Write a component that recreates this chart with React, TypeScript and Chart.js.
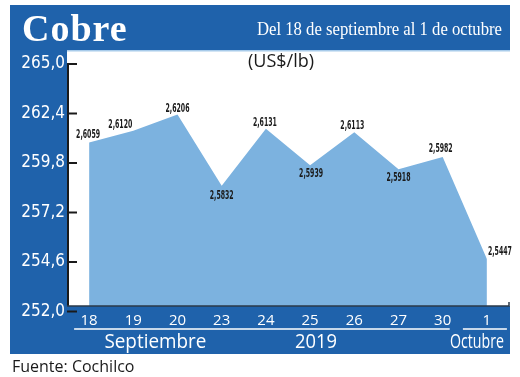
import React, { useEffect, useRef } from "react";
import { Chart, registerables } from "chart.js";

Chart.register(...registerables);

// ---- data ----
const days = ["18", "19", "20", "23", "24", "25", "26", "27", "30", "1"];
const prices = [260.59, 261.2, 262.06, 258.32, 261.31, 259.39, 261.13, 259.18, 259.82, 254.47];
const yTicks = [252.0, 254.6, 257.2, 259.8, 262.4, 265.0];
const months = ["Septiembre", "2019", "Octubre"];
const titleText = "Cobre";
const subtitleText = "Del 18 de septiembre al 1 de octubre";
const unitText = "(US$/lb)";
const sourceText = "Fuente: Cochilco";

// ---- style ----
const W = 520;
const H = 377;
const BLUE = "#1f62ab";
const FILL = "#7cb2df";
const SANS = "'Open Sans', 'DejaVu Sans', sans-serif";
const NARROW = "'Liberation Sans Narrow', 'DejaVu Sans Condensed', 'Open Sans', sans-serif";
const SERIF = "'Liberation Serif', 'DejaVu Serif', serif";
const TICK_SHIFT = 5.5;
// data-label placement relative to each point (dx, dy)
const labelDX = [-1, -13, 0, 0, -1, 1, -2, 0, -2, 13];
const labelDY = [-8, -6, -6, 10, -6, 9, -6, 9, -8, -7];

const fmtTick = (v: number) => Number(v).toFixed(1).replace(".", ",");
const fmtLabel = (v: number) => (v / 100).toFixed(4).replace(".", ",");

const decor = {
  id: "decor",
  beforeDraw(chart: any) {
    const ctx = chart.ctx;
    const ca = chart.chartArea;
    ctx.save();
    ctx.fillStyle = "#ffffff";
    ctx.fillRect(0, 0, W, H);
    ctx.fillStyle = BLUE;
    ctx.fillRect(10, 5, 500, 45);
    ctx.fillRect(10, 5, ca.left - 10, 354 - 5);
    ctx.fillStyle = "#ffffff";
    ctx.fillRect(ca.left, 50, 510 - ca.left, ca.bottom - 50);
    ctx.fillStyle = "#a8cbea";
    ctx.fillRect(ca.left, 50, 510 - ca.left, 1.5);
    ctx.restore();
  },
  afterDatasetsDraw(chart: any) {
    const ctx = chart.ctx;
    const ca = chart.chartArea;
    const ys = chart.scales.y;
    ctx.save();
    // bottom band
    ctx.fillStyle = BLUE;
    ctx.fillRect(ca.left, ca.bottom, 510 - ca.left, 354 - ca.bottom);
    // axes lines
    ctx.strokeStyle = "#1a1a1a";
    ctx.lineWidth = 2;
    const topTick = ys.getPixelForValue(yTicks[yTicks.length - 1]) + TICK_SHIFT;
    ctx.beginPath();
    ctx.moveTo(ca.left + 1, topTick - 1);
    ctx.lineTo(ca.left + 1, ca.bottom);
    ctx.stroke();
    ys.ticks.forEach((t: any) => {
      const py = ys.getPixelForValue(t.value) + TICK_SHIFT;
      ctx.beginPath();
      ctx.moveTo(ca.left, py);
      ctx.lineTo(ca.left + 10, py);
      ctx.stroke();
    });
    ctx.strokeStyle = "#2b3a4a";
    ctx.lineWidth = 1.5;
    ctx.beginPath();
    ctx.moveTo(ca.left, ca.bottom);
    ctx.lineTo(ca.right, ca.bottom);
    ctx.lineTo(ca.right, ca.bottom - 4);
    ctx.stroke();
    // data labels
    const meta = chart.getDatasetMeta(0);
    ctx.fillStyle = "#1a1a1a";
    ctx.font = `bold 12px ${NARROW}`;
    ctx.textAlign = "center";
    ctx.textBaseline = "middle";
    meta.data.forEach((pt: any, i: number) => {
      ctx.fillText(fmtLabel(prices[i]), pt.x + labelDX[i], pt.y + labelDY[i], 24);
    });
    ctx.restore();
  },
  afterDraw(chart: any) {
    const ctx = chart.ctx;
    const xs = chart.scales.x;
    ctx.save();
    const p = (i: number) => xs.getPixelForValue(i);
    // separators
    ctx.strokeStyle = "#ffffff";
    ctx.lineWidth = 1.5;
    ctx.beginPath();
    ctx.moveTo(p(0) - 15, 329);
    ctx.lineTo(p(8) + 7, 329);
    ctx.moveTo(p(9) - 24, 329);
    ctx.lineTo(p(9) + 20, 329);
    ctx.stroke();
    // month labels
    ctx.fillStyle = "#ffffff";
    ctx.font = `20px ${SANS}`;
    ctx.textAlign = "center";
    ctx.textBaseline = "alphabetic";
    ctx.fillText(months[0], (p(0) + p(3)) / 2, 348, 102);
    ctx.fillText(months[1], p(5) + 6, 348, 42);
    ctx.fillText(months[2], p(9) - 10, 348, 54);
    // title
    ctx.font = `bold 38px ${SERIF}`;
    ctx.textAlign = "left";
    (ctx as any).letterSpacing = "1px";
    ctx.fillText(titleText, 22, 41);
    (ctx as any).letterSpacing = "0px";
    ctx.font = `19px ${SERIF}`;
    ctx.textAlign = "right";
    ctx.fillText(subtitleText, 502, 35, 245);
    // unit
    ctx.fillStyle = "#1a1a1a";
    ctx.font = `18px ${SANS}`;
    ctx.textAlign = "center";
    ctx.fillText(unitText, 281, 67);
    // source
    ctx.font = `16px ${SANS}`;
    ctx.textAlign = "left";
    ctx.fillText(sourceText, 12, 372);
    ctx.restore();
  },
};

export default function App() {
  const ref = useRef<HTMLCanvasElement | null>(null);
  useEffect(() => {
    if (!ref.current) return;
    const chart = new Chart(ref.current, {
      type: "line",
      data: {
        labels: days,
        datasets: [
          {
            data: prices,
            fill: "start",
            backgroundColor: FILL,
            borderColor: FILL,
            borderWidth: 0,
            pointRadius: 0,
            tension: 0,
          },
        ],
      },
      options: {
        responsive: false,
        animation: false,
        events: [],
        layout: { padding: { left: 0, right: 11, top: 58.5, bottom: 0 } },
        plugins: { legend: { display: false }, tooltip: { enabled: false }, title: { display: false } },
        scales: {
          x: {
            type: "category",
            offset: true,
            grid: { display: false, drawTicks: false },
            border: { display: false },
            ticks: {
              z: 1,
              color: "#ffffff",
              font: { family: SANS, size: 15 },
              padding: 6,
              maxRotation: 0,
              autoSkip: false,
            },
            afterFit: (s: any) => {
              s.height = H - 306;
            },
          },
          y: {
            min: 252,
            max: 265,
            grid: { display: false, drawTicks: false },
            border: { display: false },
            afterBuildTicks: (s: any) => {
              s.ticks = yTicks.map((v) => ({ value: v }));
            },
            ticks: {
              color: "#ffffff",
              font: { family: NARROW, size: 17 },
              padding: 2,
              labelOffset: TICK_SHIFT,
              callback: (v: any) => fmtTick(v),
            },
            afterFit: (s: any) => {
              s.width = 67;
            },
          },
        },
      },
      plugins: [decor],
    });
    return () => chart.destroy();
  }, []);
  return (
    <div style={{ position: "absolute", left: 0, top: 0, width: W, height: H }}>
      <canvas ref={ref} width={W} height={H} style={{ width: W, height: H, display: "block" }} />
    </div>
  );
}
